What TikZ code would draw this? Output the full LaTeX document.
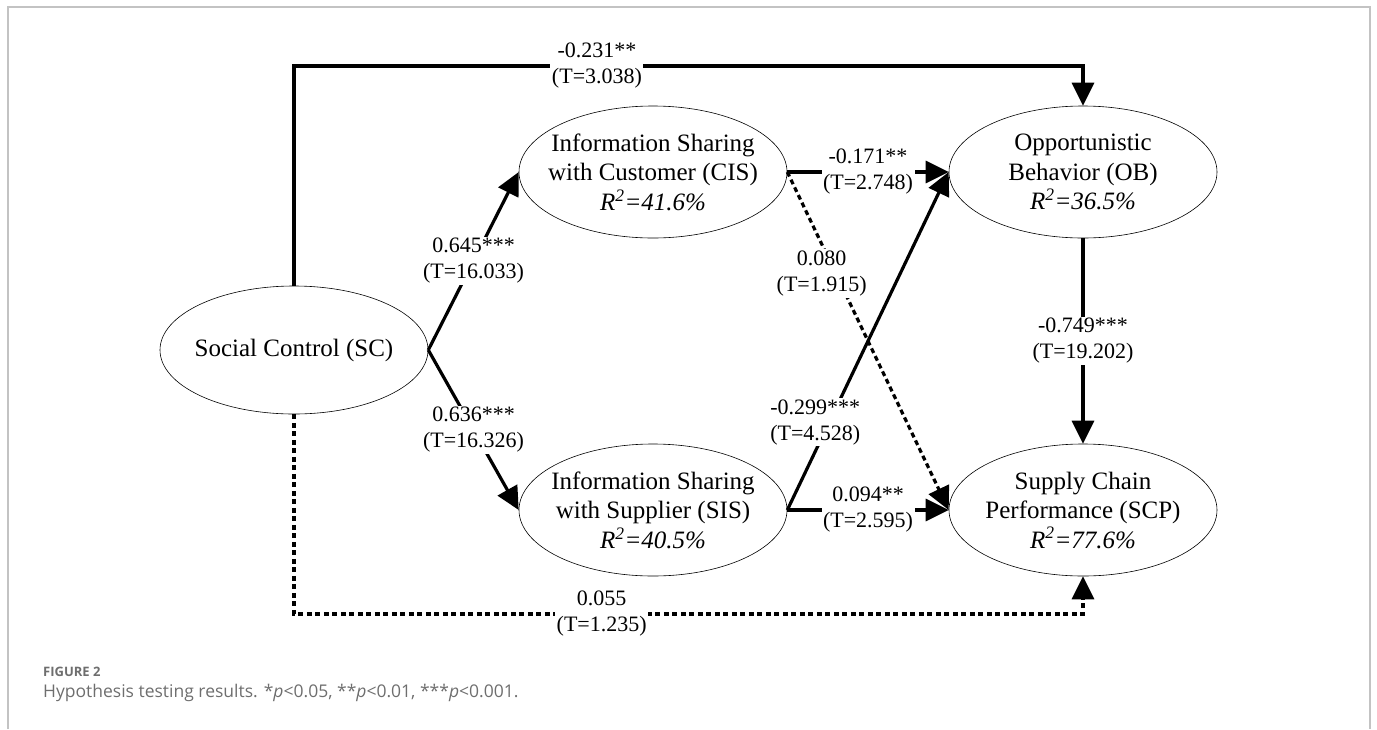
\documentclass[tikz,border=0pt]{standalone}
\usepackage{fontspec}
\setmainfont{Liberation Serif}
\newfontfamily\capfont{Open Sans}
\usetikzlibrary{shapes.geometric,arrows.meta}
\definecolor{framec}{RGB}{195,195,195}
\definecolor{capc}{RGB}{110,110,110}
\begin{document}
\begin{tikzpicture}[x=1pt,y=-1pt,
  ell/.style={ellipse,draw,line width=0.6pt,minimum width=268pt,minimum height=132pt,inner sep=0pt},
  etext/.style={align=center,font=\fontsize{25}{29.5}\selectfont,inner sep=0pt},
  conn/.style={line width=3.2pt,-{Triangle[length=23pt,width=22pt]}},
  dconn/.style={conn,dash pattern=on 5pt off 3.5pt},
  lab/.style={fill=white,align=center,font=\fontsize{22}{26}\selectfont,inner sep=1.5pt},
]
\useasboundingbox (0,0) rectangle (1377,729);
% frame
\draw[framec,line width=1.5pt] (8,729) -- (8,7) -- (1370,7) -- (1370,729);

% ellipses
\node[ell,minimum height=128pt] (sc) at (294,350) {};
\node[etext] (sct) at (sc) {Social Control (SC)};
\node[ell] (cis) at (653,172) {};
\node[etext] (cist) at (cis) {Information Sharing\\with Customer (CIS)\\\textit{R\textsuperscript{2}=41.6\%}};
\node[ell] (sis) at (653,510) {};
\node[etext] (sist) at (sis) {Information Sharing\\with Supplier (SIS)\\\textit{R\textsuperscript{2}=40.5\%}};
\node[ell] (ob) at (1083,172) {};
\node[etext] (obt) at (ob) {Opportunistic\\Behavior (OB)\\\textit{R\textsuperscript{2}=36.5\%}};
\node[ell] (scp) at (1083,510) {};
\node[etext] (scpt) at (scp) {Supply Chain\\Performance (SCP)\\\textit{R\textsuperscript{2}=77.6\%}};

% connectors
\coordinate (tl) at (294,66);
\coordinate (tr) at (1083,66);
\draw[conn] (sc.north) -- (tl) -- node[lab,pos=0.384]{-0.231**\\(T=3.038)} (tr) -- (ob.north);

\coordinate (bl) at (294,614);
\coordinate (br) at (1083,614);
\draw[dconn] (sc.south) -- (bl) -- node[lab,pos=0.39]{0.055\\(T=1.235)} (br) -- (scp.south);

\draw[conn] (sc.east) -- node[lab]{0.645***\\(T=16.033)} (cis.west);
\draw[conn] (sc.east) -- node[lab]{0.636***\\(T=16.326)} (sis.west);
\draw[conn] (cis.east) -- node[lab]{-0.171**\\(T=2.748)} (ob.west);
\draw[dconn] (cis.east) -- node[lab,pos=0.3,xshift=-14pt]{0.080\\(T=1.915)} (scp.west);
\draw[conn] (sis.east) -- node[lab,pos=0.26,xshift=-14pt]{-0.299***\\(T=4.528)} (ob.west);
\draw[conn] (sis.east) -- node[lab]{0.094**\\(T=2.595)} (scp.west);
\draw[conn] (ob.south) -- node[lab]{-0.749***\\(T=19.202)} (scp.north);

% caption
\node[anchor=base west,inner sep=0pt,text=capc,font=\capfont\bfseries\fontsize{13}{15}\selectfont] (fig) at (43,676) {FIGURE 2};
\node[anchor=base west,inner sep=0pt,text=capc,font=\capfont\fontsize{17.5}{20}\selectfont] (cap) at (43,697) {Hypothesis testing results. *\textit{p}<0.05, **\textit{p}<0.01, ***\textit{p}<0.001.};
\end{tikzpicture}
\end{document}
